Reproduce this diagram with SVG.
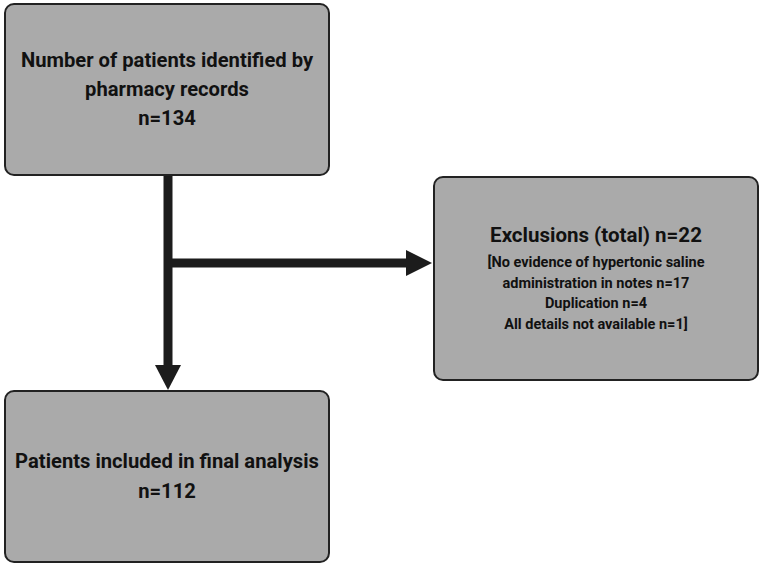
<svg xmlns="http://www.w3.org/2000/svg" width="762" height="566" viewBox="0 0 762 566">
<style>
.box{fill:#aaaaaa;stroke:#222222;stroke-width:2}
.t{font-family:Roboto,"Liberation Sans",sans-serif;font-weight:bold;fill:#111111;text-anchor:middle}
.big{font-size:20.2px}
.title{font-size:20.5px}
.small{font-size:14.5px}
.line{stroke:#1c1c1c;stroke-width:9;fill:none}
.head{fill:#1c1c1c}
</style>
<rect width="762" height="566" fill="#ffffff"/>
<g id="connectors">
<line class="line" x1="168" y1="175" x2="168" y2="368"/>
<polygon class="head" points="155,365 181,365 168,390"/>
<line class="line" x1="168" y1="263" x2="408" y2="263"/>
<polygon class="head" points="406,250 406,276 432,263"/>
</g>
<g id="node-identified">
<rect class="box" x="5" y="4" width="324" height="171" rx="9"/>
<text class="t big" x="167" y="67">Number of patients identified by</text>
<text class="t big" x="167" y="96">pharmacy records</text>
<text class="t big" x="167" y="125">n=134</text>
</g>
<g id="node-exclusions">
<rect class="box" x="434" y="177" width="324" height="203" rx="9"/>
<text class="t title" x="596" y="242">Exclusions (total) n=22</text>
<text class="t small" x="596" y="267">[No evidence of hypertonic saline</text>
<text class="t small" x="596" y="288">administration in notes n=17</text>
<text class="t small" x="596" y="308">Duplication n=4</text>
<text class="t small" x="596" y="329">All details not available n=1]</text>
</g>
<g id="node-included">
<rect class="box" x="5" y="391" width="324" height="171" rx="9"/>
<text class="t big" x="167" y="468">Patients included in final analysis</text>
<text class="t big" x="167" y="498">n=112</text>
</g>
</svg>
